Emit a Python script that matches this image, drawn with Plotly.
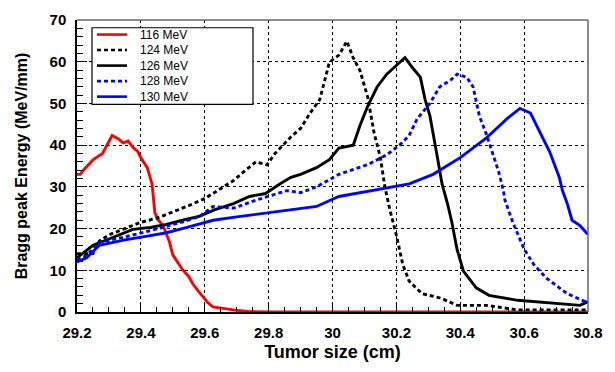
import plotly.graph_objects as go

# ---- data ----
x116 = [29.2, 29.21, 29.22, 29.25, 29.28, 29.31, 29.33, 29.345, 29.36, 29.375, 29.39, 29.4, 29.42, 29.435,
        29.444, 29.455, 29.47, 29.49, 29.5, 29.515, 29.53, 29.55, 29.563, 29.58, 29.595, 29.61,
        29.626, 29.66, 29.69, 29.74, 29.8, 30.0, 30.4, 30.8]
y116 = [33, 33, 34, 36.5, 38, 42.3, 41.5, 40.5, 41, 39.5, 38.5, 37, 34.6, 30.7,
        23.7, 22, 20.7, 16.7, 13.7, 12, 10.2, 8.5, 6.7, 5, 3.5, 2.2,
        1.2, 0.8, 0.5, 0.1, 0, 0, 0, 0]

x124 = [29.2, 29.25, 29.27, 29.3, 29.35, 29.4, 29.45, 29.5, 29.55, 29.6, 29.65, 29.69, 29.72,
        29.76, 29.795, 29.82, 29.845, 29.87, 29.9, 29.93, 29.96, 29.99, 30.02, 30.045, 30.065,
        30.086, 30.11, 30.13, 30.15, 30.164, 30.18, 30.2, 30.22, 30.24, 30.28, 30.34, 30.39,
        30.48, 30.58, 30.7, 30.8]
y124 = [14, 14, 17, 18.5, 20, 21.5, 22.5, 24, 25.5, 27.2, 29.5, 31.5, 33.5,
        36, 35.3, 38, 40, 42, 44, 47.7, 50.9, 59.8, 61.6, 64.9, 60.9,
        57.9, 51.6, 43, 37, 30, 24.4, 18.4, 11.4, 7.4, 4.4, 3.3, 1.6,
        1.6, 0.5, 0.5, 0.5]

x126 = [29.2, 29.25, 29.3, 29.375, 29.43, 29.48, 29.53, 29.585, 29.63, 29.69, 29.74, 29.79, 29.835,
        29.87, 29.9, 29.95, 29.99, 30.02, 30.065, 30.086, 30.11, 30.14, 30.17, 30.2, 30.227,
        30.25, 30.275, 30.29, 30.305, 30.327, 30.343, 30.36, 30.374, 30.39, 30.41, 30.45, 30.49,
        30.58, 30.68, 30.775, 30.8]
y126 = [13, 16, 17.5, 19.8, 20.3, 21, 22, 23, 24.5, 26, 27.7, 28.4, 30.7,
        32.3, 33, 34.6, 36.5, 39.3, 40, 44.7, 49.3, 54, 57, 59, 61,
        58.6, 56.3, 50.9, 47, 37.7, 30.7, 26, 21.4, 15, 9.8, 5.8, 4,
        2.8, 2.1, 1.6, 2.5]

x128 = [29.2, 29.23, 29.27, 29.35, 29.43, 29.49, 29.54, 29.585, 29.626, 29.69, 29.76, 29.857, 29.9,
        29.95, 30.02, 30.11, 30.17, 30.21, 30.24, 30.265, 30.305, 30.336, 30.37, 30.39, 30.42,
        30.44, 30.46, 30.48, 30.5, 30.52, 30.535, 30.54, 30.565, 30.6, 30.63, 30.67, 30.735,
        30.785, 30.8]
y128 = [12.5, 13.5, 16.7, 18, 19.5, 20.7, 21.8, 23, 25.3, 24.9, 26.8, 29.1, 28.6,
        30, 33, 35.3, 37.7, 40, 42.3, 46.3, 50, 54, 55.6, 57, 56.3,
        54, 47, 43, 38.4, 33.7, 29.1, 26.8, 21.4, 15.1, 11.4, 8.1, 4.4,
        2.8, 2.2]

x130 = [29.2, 29.23, 29.27, 29.35, 29.42, 29.48, 29.55, 29.626, 29.7, 29.795, 29.87, 29.95, 30.02,
        30.09, 30.16, 30.24, 30.315, 30.4, 30.48, 30.546, 30.587, 30.62, 30.65, 30.68, 30.71,
        30.72, 30.735, 30.75, 30.775, 30.8]
y130 = [12, 13, 16, 17.3, 18.2, 19, 20.4, 22, 22.8, 23.7, 24.5, 25.3, 27.7,
        28.6, 29.5, 30.7, 33, 37, 41.6, 46.3, 48.8, 47.7, 43, 38.4, 32.3,
        29.1, 26, 22, 20.7, 18.6]

series = [
    ("116 MeV", x116, y116, "#ff0000", "solid"),
    ("124 MeV", x124, y124, "#000000", "4px,3px"),
    ("126 MeV", x126, y126, "#000000", "solid"),
    ("128 MeV", x128, y128, "#0000ff", "4px,3px"),
    ("130 MeV", x130, y130, "#0000ff", "solid"),
]

FONT = "Liberation Sans, Arial, sans-serif"

# plot-area geometry in pixels (for the hand-drawn legend box)
W, H = 615, 372
ML, MR, MT, MB = 77, 27, 11, 60
PW, PH = W - ML - MR, H - MT - MB


def px(xp):
    return (xp - ML) / PW


def py(yp):
    return 1 - (yp - MT) / PH


fig = go.Figure()
for name, xs, ys, col, dash in series:
    fig.add_trace(go.Scatter(
        x=xs, y=ys, mode="lines", name=name, showlegend=False,
        line=dict(color=col, width=2.9, dash=dash),
    ))

# legend drawn with shapes + annotations (ROOT-style compact box)
shapes = [
    dict(type="rect", xref="paper", yref="paper",
         x0=px(92), x1=px(253), y0=py(98), y1=py(19),
         line=dict(color="black", width=1.2), fillcolor="white", layer="above"),
]
annotations = []
for i, (name, xs, ys, col, dash) in enumerate(series):
    yc = 26 + i * 16
    shapes.append(dict(type="line", xref="paper", yref="paper",
                       x0=px(97), x1=px(127), y0=py(yc), y1=py(yc),
                       line=dict(color=col, width=2.6, dash=dash), layer="above"))
    annotations.append(dict(xref="paper", yref="paper", x=px(138), y=py(yc),
                            xanchor="left", yanchor="middle", showarrow=False,
                            text=name, font=dict(family=FONT, size=12, color="black")))

# top / right frame in grey
shapes += [
    dict(type="line", xref="paper", yref="paper", x0=0, x1=1, y0=1, y1=1,
         line=dict(color="#666666", width=1.5)),
    dict(type="line", xref="paper", yref="paper", x0=1, x1=1, y0=0, y1=1,
         line=dict(color="#666666", width=1.5)),
]

fig.update_layout(
    width=W, height=H,
    margin=dict(l=ML, r=MR, t=MT, b=MB),
    paper_bgcolor="white", plot_bgcolor="white",
    font=dict(family=FONT, color="black"),
    showlegend=False,
    xaxis=dict(
        range=[29.2, 30.8], dtick=0.2, tick0=29.2,
        ticks="inside", ticklen=8, tickwidth=1, tickcolor="black",
        minor=dict(ticks="inside", ticklen=5, dtick=0.05, tickcolor="black", showgrid=False),
        showgrid=True, gridcolor="black", griddash="dot", gridwidth=1,
        showline=True, linecolor="black", linewidth=1.5,
        zeroline=False,
        tickfont=dict(family=FONT, size=15, color="black", weight="bold"),
        ticklabelstandoff=6,
        title=dict(text="<b>Tumor size (cm)</b>", font=dict(size=18), standoff=6),
    ),
    yaxis=dict(
        range=[0, 70], dtick=10,
        ticks="inside", ticklen=10, tickwidth=1, tickcolor="black",
        minor=dict(ticks="inside", ticklen=6, dtick=2, tickcolor="black", showgrid=False),
        showgrid=True, gridcolor="black", griddash="dot", gridwidth=1,
        showline=True, linecolor="black", linewidth=1.5,
        zeroline=False,
        tickfont=dict(family=FONT, size=15, color="black", weight="bold"),
        ticklabelstandoff=6,
        title=dict(text="<b>Bragg peak Energy (MeV/mm)</b>", font=dict(size=16), standoff=18),
    ),
    shapes=shapes,
    annotations=annotations,
)

fig.write_html("out.html")
